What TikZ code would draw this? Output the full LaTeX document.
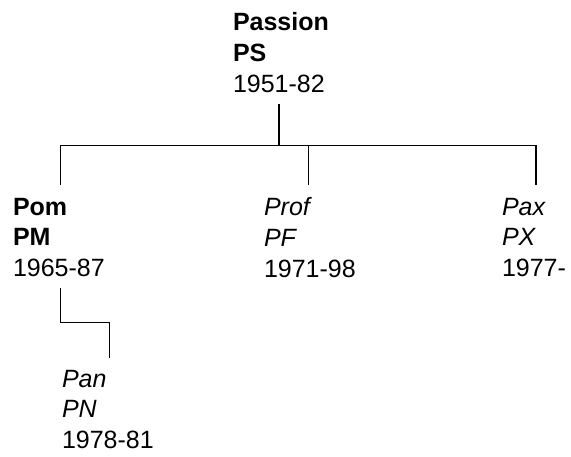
\documentclass[tikz,border=0pt]{standalone}
\usepackage{fontspec}
\setmainfont{Liberation Sans}
\usepackage{tikz}
\usetikzlibrary{calc,backgrounds}
\tikzstyle{fam}=[
  x=1pt, y=1pt, font=\fontsize{25}{30.7}\selectfont
]
\tikzstyle{famnode}=[
  anchor=north west, inner sep=0pt, outer sep=0pt, align=left
]
\tikzstyle{famedge}=[
    line width=1.1pt, black
]
\tikzstyle{famroot}=[
    famedge, line width=1.6pt
]

\begin{document}
\begin{tikzpicture}[fam]
    \useasboundingbox (0,0) rectangle (571,456);

    \node (root) [famnode] at ($(233, 443.5)$) {
        \textbf{Passion}\\ \textbf{PS}\\ 1951-82
    };
    \node (pom) [famnode] at ($(root.north west) + (-220, -185.3)$) {
        \textbf{Pom}\\ \textbf{PM}\\ 1965-87
    };
    \node (prof) [famnode] at ($(root.north west) + (31, -185.3)$) {
        \textit{Prof}\\ \textit{PF}\\ 1971-98
    };
    \node (pax) [famnode] at ($(root.north west) + (269, -185.3)$) {
        \textit{Pax}\\ \textit{PX}\\ 1977-
    };
    \node (pan) [famnode] at ($(pom.north west) + (49, -172.2)$) {
        \textit{Pan}\\ \textit{PN}\\ 1978-81
    };

    \coordinate (top) at ($(root.south) + (-2, 0)$);
    \coordinate (bus) at ($(top) + (0, -53)$);
    \begin{scope}[on background layer]
        \draw [famroot, shorten <=12pt] (top) -- (bus);
        \draw [famedge, shorten >=13pt] (bus) -| ($(pom.north) + (2, 0)$);
        \draw [famedge, shorten >=13pt] (bus) -| ($(prof.north) + (-1, 0)$);
        \draw [famedge, shorten >=13pt] (bus) -| ($(pax.north) + (2, 0)$);
        \draw [famedge, shorten <=11.5pt, shorten >=12pt] ($(pom.south) + (2, 0)$)
                 -- ++ (0, -45.6) -| ($(pan.north) + (2, 0)$);
    \end{scope}
\end{tikzpicture}
\end{document}
